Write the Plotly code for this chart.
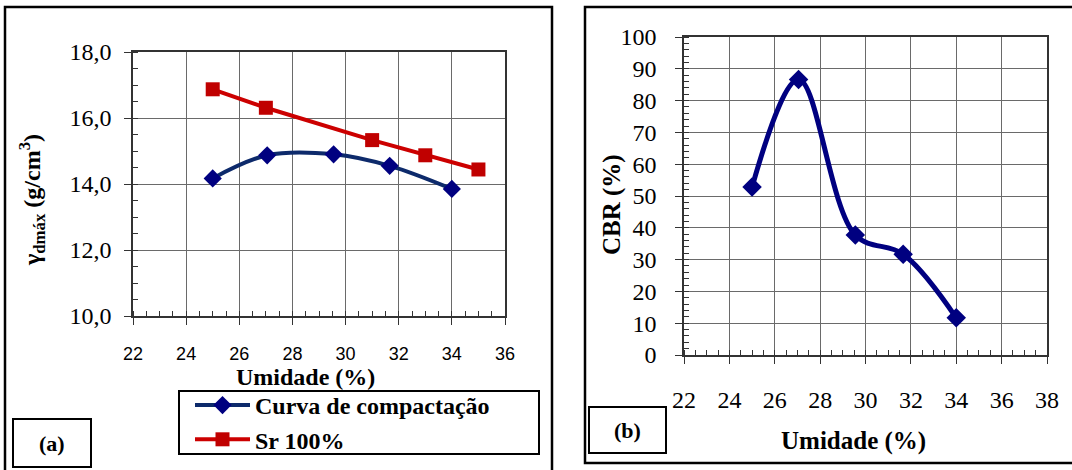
import plotly.graph_objects as go

# umidade (%) dos ensaios
umidade = [25.0, 27.05, 29.55, 31.66, 34.0]
gama_dmax = [14.17, 14.87, 14.90, 14.55, 13.85]
cbr = [52.8, 86.6, 37.7, 31.7, 11.7]

# curva de saturação Sr 100%
umidade_sr = [25.0, 27.0, 31.0, 33.0, 35.0]
gama_sr = [16.87, 16.31, 15.33, 14.87, 14.44]

W, H = 1072, 470
SERIF = "Liberation Serif, Times New Roman, serif"
SANS = "Liberation Sans, Arial, sans-serif"


def px(x):
    return x / W


def py(y):
    return (H - y) / H


fig = go.Figure()

fig.add_trace(go.Scatter(x=umidade, y=gama_dmax, mode="lines+markers", name="<b>Curva de compactação</b>",
                         line=dict(color="#0d2a6b", width=4, shape="spline", smoothing=1),
                         marker=dict(symbol="diamond", size=14, color="#000080"),
                         xaxis="x", yaxis="y"))
fig.add_trace(go.Scatter(x=umidade_sr, y=gama_sr, mode="lines+markers", name="<b>Sr 100%</b>",
                         line=dict(color="#cc0000", width=4),
                         marker=dict(symbol="square", size=14, color="#c00000"),
                         xaxis="x", yaxis="y"))
fig.add_trace(go.Scatter(x=umidade, y=cbr, mode="lines+markers", name="CBR", showlegend=False,
                         line=dict(color="#000080", width=5, shape="spline", smoothing=1),
                         marker=dict(symbol="diamond", size=15, color="#000080"),
                         xaxis="x2", yaxis="y2"))

grid = "#6a6a6a"
axis_common = dict(showline=True, linecolor="#333333", linewidth=1.5, mirror=True,
                   showgrid=True, gridcolor=grid, gridwidth=1, zeroline=False, automargin=False,
                   ticks="outside", ticklen=7, tickcolor="#333333")

fig.update_layout(
    width=W, height=H,
    margin=dict(l=0, r=0, t=0, b=0),
    paper_bgcolor="white", plot_bgcolor="white",
    separators=",.",
    xaxis=dict(domain=[px(133), px(505)], range=[22, 36], dtick=2, anchor="y",
               tickfont=dict(family=SANS, size=18, color="black"), ticklabelstandoff=14,
               minor=dict(dtick=0.5, ticks="inside", ticklen=5, tickcolor="#333333", showgrid=False),
               **axis_common),
    yaxis=dict(domain=[py(316), py(52)], range=[10, 18], dtick=2, tickformat=".1f", anchor="x",
               tickfont=dict(family=SERIF, size=24, color="black"), ticklabelstandoff=8,
               minor=dict(dtick=0.5, ticks="inside", ticklen=5, tickcolor="#333333", showgrid=False),
               **axis_common),
    xaxis2=dict(domain=[px(684), px(1047)], range=[22, 38], dtick=2, anchor="y2",
                tickfont=dict(family=SERIF, size=24, color="black"), ticklabelstandoff=15,
                minor=dict(dtick=0.5, ticks="inside", ticklen=5, tickcolor="#333333", showgrid=False),
                **axis_common),
    yaxis2=dict(domain=[py(355), py(37)], range=[0, 100], dtick=10, anchor="x2",
                tickfont=dict(family=SERIF, size=24, color="black"), ticklabelstandoff=14,
                minor=dict(dtick=2, ticks="inside", ticklen=5, tickcolor="#333333", showgrid=False),
                **axis_common),
    legend=dict(x=px(190), y=py(383), xanchor="left", yanchor="top",
                borderwidth=0, bgcolor="rgba(0,0,0,0)",
                font=dict(family=SERIF, size=24, color="black"),
                itemwidth=55, tracegroupgap=0),
    font=dict(family=SERIF, color="black"),
)

# molduras dos painéis e da legenda
fig.add_shape(type="rect", xref="paper", yref="paper", x0=px(5), x1=px(552), y0=-0.05, y1=py(7),
              line=dict(color="black", width=2.5))
fig.add_shape(type="rect", xref="paper", yref="paper", x0=px(585), x1=1.02, y0=py(463), y1=py(7),
              line=dict(color="black", width=2.5))
fig.add_shape(type="rect", xref="paper", yref="paper", x0=px(179), x1=px(539), y0=py(454), y1=py(391),
              line=dict(color="black", width=2))
fig.add_shape(type="rect", xref="paper", yref="paper", x0=px(13), x1=px(91), y0=py(467), y1=py(419),
              line=dict(color="black", width=2))
fig.add_shape(type="rect", xref="paper", yref="paper", x0=px(589), x1=px(666), y0=py(453), y1=py(407),
              line=dict(color="black", width=2))

annots = [
    dict(x=px(52), y=py(443), text="<b>(a)</b>", size=22, angle=0),
    dict(x=px(627), y=py(430), text="<b>(b)</b>", size=22, angle=0),
    dict(x=px(305), y=py(377), text="<b>Umidade (%)</b>", size=24, angle=0),
    dict(x=px(853), y=py(441), text="<b>Umidade (%)</b>", size=25, angle=0),
    dict(x=px(32), y=py(200), text="<b>γ<sub>dmáx</sub> (g/cm<sup>3</sup>)</b>", size=24, angle=-90),
    dict(x=px(612), y=py(205), text="<b>CBR (%)</b>", size=25, angle=-90),
]
for a in annots:
    fig.add_annotation(x=a["x"], y=a["y"], xref="paper", yref="paper", text=a["text"],
                       showarrow=False, textangle=a["angle"], xanchor="center", yanchor="middle",
                       font=dict(family=SERIF, size=a["size"], color="black"))

fig.write_html("out.html", config={"displayModeBar": False},
               post_script="document.body.style.margin='0px';")
